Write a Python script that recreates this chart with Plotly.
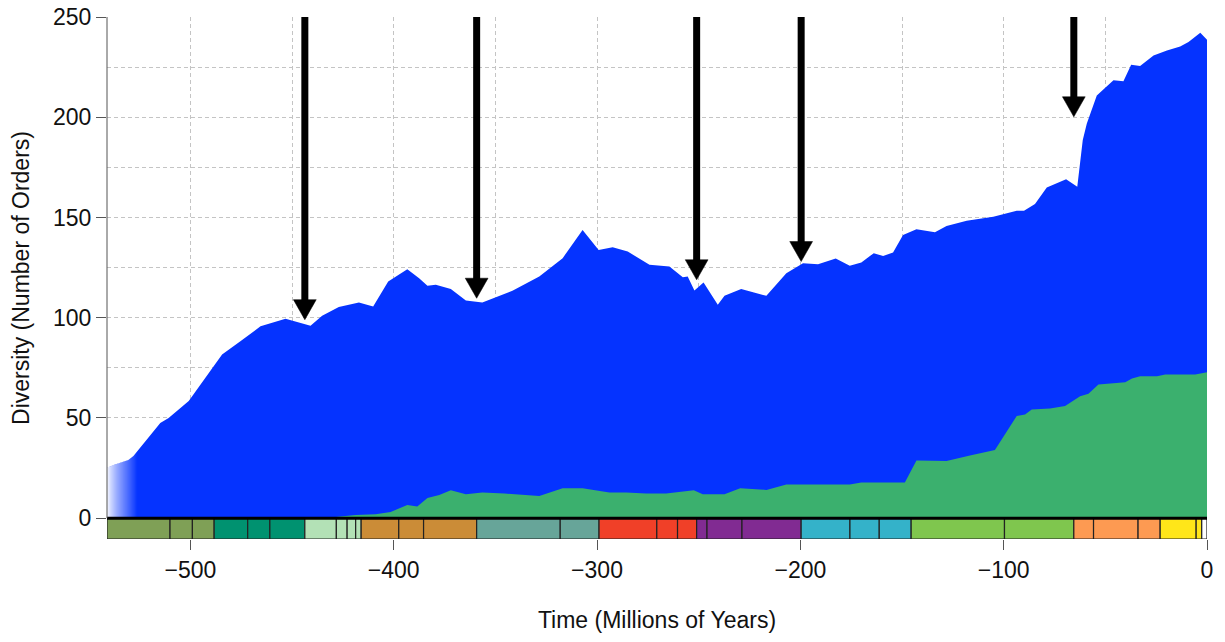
import numpy as np
import plotly.graph_objects as go

# ---------------- data ----------------
# Total diversity (number of orders) through time (Ma, negative = past)
blue_time = [-541, -537.8, -530.5, -528, -514.8, -510.7, -500.8, -496.8, -484.4, -475.4,
             -465.5, -453.2, -440.9, -435.2, -427, -417.1, -410.1, -402.7, -393.3, -387.5,
             -383.4, -379.3, -371.9, -364.5, -356.4, -341.6, -328.4, -316.9, -307.1, -299.2,
             -292.3, -284.9, -274.2, -264.4, -257.8, -255.4, -252.1, -247.6, -240.6, -237.3,
             -229.1, -216.7, -206.9, -198.7, -191.3, -182.6, -175.7, -170, -163.9, -159.3,
             -154.4, -149.5, -142.9, -133.8, -128.1, -118.2, -105.1, -93.6, -90, -84.6,
             -78.8, -69.3, -63.8, -61.1, -59.1, -54.2, -46, -41.1, -37.3, -32.9,
             -26.3, -19.7, -13.2, -9.1, -3.3, 0]
blue_vals = [25, 26.5, 29, 31, 47.5, 50, 58.4, 64, 81.6, 88.2,
             95.7, 99.5, 96, 101, 105.3, 107.6, 105.6, 118.1, 124.2, 119.7,
             115.9, 116.4, 114.3, 108.6, 107.6, 113.4, 120.5, 129.7, 143.8, 133.8,
             135.2, 133, 126.4, 125.5, 120.2, 120.5, 113.6, 117.6, 106.5, 110.9,
             114.3, 110.9, 122.2, 127.2, 126.7, 129.5, 125.9, 127.5, 132.2, 130.8,
             132.5, 141.3, 144.1, 142.6, 145.8, 148.4, 150.4, 153.4, 153.4, 156.7,
             165, 169, 165.3, 188.6, 196.9, 210.9, 218.4, 217.9, 226.2, 225.5,
             230.8, 233.3, 235.3, 237.5, 242.1, 238.6]

# Subset diversity (green)
green_time = [-541, -430, -428.6, -418.7, -408.9, -401.5, -393.3, -388.4, -383.4, -377.6,
              -371.9, -364.5, -356.4, -345.5, -328.4, -316.9, -307.1, -293.9, -285.7, -275.9,
              -266, -256.2, -252.4, -248, -237.3, -229.6, -216.7, -206.9, -175.7, -170,
              -148.6, -142.9, -128.1, -116.6, -104.3, -93.6, -89.5, -86.2, -77.2, -69.8,
              -62.4, -58.3, -53.4, -40.2, -36.9, -32.9, -24.6, -20.5, -5.8, 0]
green_vals = [0, 0, 0.6, 1.6, 2, 3.1, 6.6, 5.8, 10, 11.6,
              13.9, 11.9, 12.8, 12.3, 11.1, 14.9, 14.9, 12.8, 12.8, 12.3,
              12.3, 13.3, 13.9, 11.9, 11.9, 14.9, 14.1, 16.8, 16.8, 17.8,
              17.8, 28.7, 28.5, 31.3, 34, 50.9, 51.7, 54.2, 54.7, 55.9,
              60.8, 62, 66.7, 67.8, 69.7, 70.8, 70.8, 71.6, 71.6, 72.8]

# Mass extinction arrows: time and value at arrow tip
arrow_time = [-443.7, -359.2, -251.0, -199.6, -65.5]
arrow_tip = [99.0, 109.7, 118.9, 128.0, 200.2]

# Geologic time scale (epoch boundaries, Ma) and colours
gts_start = [-542, -510, -499, -488.3, -471.8, -460.9, -443.7, -428.2, -422.9, -418.7,
             -416, -397.5, -385.3, -359.2, -318.1, -299, -270.6, -260.4, -251, -245.9,
             -228.7, -199.6, -175.6, -161.2, -145.5, -99.6, -65.5, -55.8, -33.9, -23.03,
             -5.33, -2.59]
gts_end = gts_start[1:] + [0]
gts_color = (["#7FA056"] * 3 + ["#009270"] * 3 + ["#B3E1B6"] * 4 + ["#CB8C37"] * 3 +
             ["#67A599"] * 2 + ["#F04028"] * 3 + ["#812B92"] * 3 + ["#34B2C9"] * 3 +
             ["#7FC64E"] * 2 + ["#FD9A52"] * 3 + ["#FFE619"] * 2 + ["#FFFFFF"])

x_ticks = [-500, -400, -300, -200, -100, 0]
y_ticks = [0, 50, 100, 150, 200, 250]

BLUE = "#0533FF"
GREEN = "#3BB06E"
XMIN, XMAX = -541, 0
YMIN, YMAX = -10.4, 250

fig = go.Figure()
fig.add_trace(go.Scatter(x=blue_time, y=blue_vals, mode="lines", fill="tozeroy",
                         line=dict(width=0, color=BLUE), fillcolor=BLUE,
                         hoverinfo="skip", showlegend=False))
fig.add_trace(go.Scatter(x=green_time, y=green_vals, mode="lines", fill="tozeroy",
                         line=dict(width=0, color=GREEN), fillcolor=GREEN,
                         hoverinfo="skip", showlegend=False))

shapes = []
# fade-in at the left edge (white strips of decreasing opacity)
n_fade = 30
fade_edges = np.linspace(XMIN, XMIN + 15, n_fade + 1)
for i in range(n_fade):
    x0, x1 = fade_edges[i], fade_edges[i + 1]
    top = float(np.interp(x1, blue_time, blue_vals))
    shapes.append(dict(type="rect", xref="x", yref="y", x0=x0, x1=x1, y0=0, y1=top,
                       fillcolor="white", opacity=float(1 - (i + 0.5) / n_fade) * 0.97,
                       line=dict(width=0), layer="above"))

# time scale bar
for s, e, c in zip(gts_start, gts_end, gts_color):
    shapes.append(dict(type="rect", xref="x", yref="y", x0=max(s, XMIN), x1=e,
                       y0=YMIN, y1=0, fillcolor=c,
                       line=dict(color="#222222", width=1.2), layer="above"))
# zero line on top of bar
shapes.append(dict(type="line", xref="paper", yref="y", x0=0, x1=1, y0=0, y1=0,
                   line=dict(color="black", width=3), layer="above"))
# y axis line
shapes.append(dict(type="line", xref="paper", yref="y", x0=0, x1=0, y0=0, y1=YMAX,
                   line=dict(color="#555555", width=1), layer="above"))

# arrows
head_h = 10
head_hw = 5.6
for t, tip in zip(arrow_time, arrow_tip):
    shapes.append(dict(type="line", xref="x", yref="y", x0=t, x1=t, y0=YMAX,
                       y1=tip + head_h * 0.9, line=dict(color="black", width=7),
                       layer="above"))
    path = (f"M {t - head_hw},{tip + head_h} L {t + head_hw},{tip + head_h} "
            f"L {t},{tip} Z")
    shapes.append(dict(type="path", xref="x", yref="y", path=path,
                       fillcolor="black", line=dict(color="black", width=0.5),
                       layer="above"))

FONT = "Liberation Sans, Arial, sans-serif"
grid = dict(showgrid=True, gridcolor="#C4C4C4", gridwidth=1, griddash="4px,3px")

fig.update_layout(
    width=1225, height=642, autosize=False,
    margin=dict(l=107, r=18, t=17, b=103, autoexpand=False),
    paper_bgcolor="white", plot_bgcolor="white",
    font=dict(family=FONT, size=23, color="#111111"),
    shapes=shapes,
    xaxis=dict(range=[XMIN, XMAX], tickmode="array", tickvals=x_ticks,
               ticktext=[f"\u2212{abs(v)}" if v < 0 else str(v) for v in x_ticks],
               ticks="outside", ticklen=10, tickwidth=1, tickcolor="#555555",
               showline=False, zeroline=False, automargin=False,
               minor=dict(dtick=50, tick0=0, ticks="", **grid),
               title=dict(text="Time (Millions of Years)", standoff=30,
                          font=dict(size=23)),
               **grid),
    yaxis=dict(range=[YMIN, YMAX], tickmode="array", tickvals=y_ticks,
               ticks="outside", ticklen=10, tickwidth=1, tickcolor="#555555",
               showline=False, zeroline=False, automargin=False,
               minor=dict(dtick=25, tick0=0, ticks="", **grid),
               title=dict(text="Diversity (Number of Orders)", standoff=16,
                          font=dict(size=23)),
               **grid),
)

fig.write_html("out.html")
